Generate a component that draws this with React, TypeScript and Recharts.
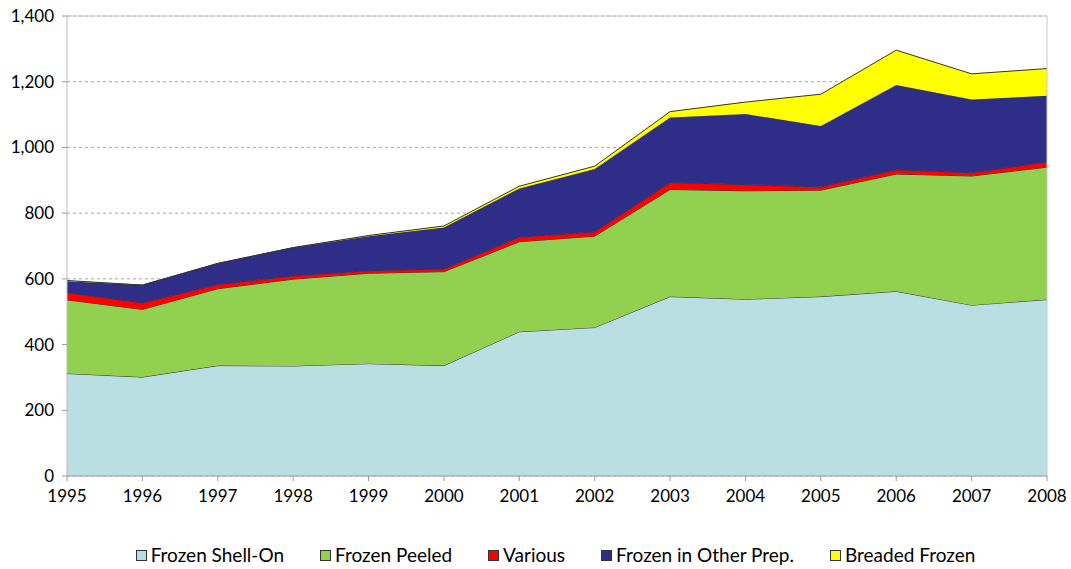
import { AreaChart, Area, XAxis, YAxis, CartesianGrid, ReferenceLine } from 'recharts'

const years = ['1995', '1996', '1997', '1998', '1999', '2000', '2001', '2002', '2003', '2004', '2005', '2006', '2007', '2008']
const shellOn = [312, 301, 336, 335, 342, 336, 439, 452, 546, 538, 546, 562, 520, 537]
const peeled = [224, 206, 234, 264, 275, 286, 274, 278, 326, 330, 324, 357, 393, 403]
const various = [22, 20, 13, 10, 8, 8, 14, 13, 21, 19, 10, 13, 10, 16]
const otherPrep = [35, 54, 64, 86, 105, 126, 148, 191, 198, 215, 185, 258, 223, 201]
const breaded = [2, 0, 0, 0, 2, 5, 7, 9, 18, 36, 97, 106, 78, 83]
const yTicks = [0, 200, 400, 600, 800, 1000, 1200, 1400]

const series = [
  { key: 'shell', name: 'Frozen Shell-On', color: '#B9DFE3' },
  { key: 'peeled', name: 'Frozen Peeled', color: '#92D050' },
  { key: 'various', name: 'Various', color: '#FF0000' },
  { key: 'other', name: 'Frozen in Other Prep.', color: '#2E2E88' },
  { key: 'breaded', name: 'Breaded Frozen', color: '#FFFF00' },
]

const data = years.map((y, i) => ({
  year: y,
  shell: shellOn[i],
  peeled: peeled[i],
  various: various[i],
  other: otherPrep[i],
  breaded: breaded[i],
}))

const font = 'Lato, "DejaVu Sans", sans-serif'

export default function App() {
  return (
    <div style={{ position: 'absolute', left: 0, top: 0, width: 1071, height: 569, background: '#fff' }}>
      <AreaChart width={1071} height={569} data={data} margin={{ top: 16, right: 24, left: 0, bottom: 53 }}>
        <CartesianGrid horizontal vertical={false} strokeDasharray="3 3" stroke="#a6a6a6" />
        <XAxis
          dataKey="year" tick={{ fill: '#000', fontSize: 17, fontFamily: font, dy: 7 }}
          tickLine={{ stroke: '#999' }} tickSize={5} axisLine={{ stroke: '#999' }} height={40} interval={0}
        />
        <YAxis
          domain={[0, 1400]} ticks={yTicks} width={67}
          tickFormatter={(v: number) => v.toLocaleString('en-US')}
          tick={{ fill: '#000', fontSize: 17, fontFamily: font, dx: -6 }}
          tickLine={{ stroke: '#999' }} tickSize={5} axisLine={{ stroke: '#bbb' }}
        />
        <ReferenceLine y={1400} stroke="#c8c8c8" />
        <ReferenceLine x="2008" stroke="#c8c8c8" />
        {series.map(s => (
          <Area
            key={s.key} type="linear" dataKey={s.key} name={s.name} stackId="1"
            fill={s.color} fillOpacity={1} stroke="#333" strokeWidth={1} isAnimationActive={false}
          />
        ))}
      </AreaChart>
      <div style={{
        position: 'absolute', left: 20, top: 543, width: 1071, display: 'flex', justifyContent: 'center',
        gap: 36, fontFamily: font, fontSize: 19, color: '#000', lineHeight: '24px',
      }}>
        {series.map(s => (
          <div key={s.key} style={{ display: 'flex', alignItems: 'center' }}>
            <span style={{ width: 9, height: 9, background: s.color, border: '1px solid #333', marginRight: 4 }} />
            <span>{s.name}</span>
          </div>
        ))}
      </div>
    </div>
  )
}
